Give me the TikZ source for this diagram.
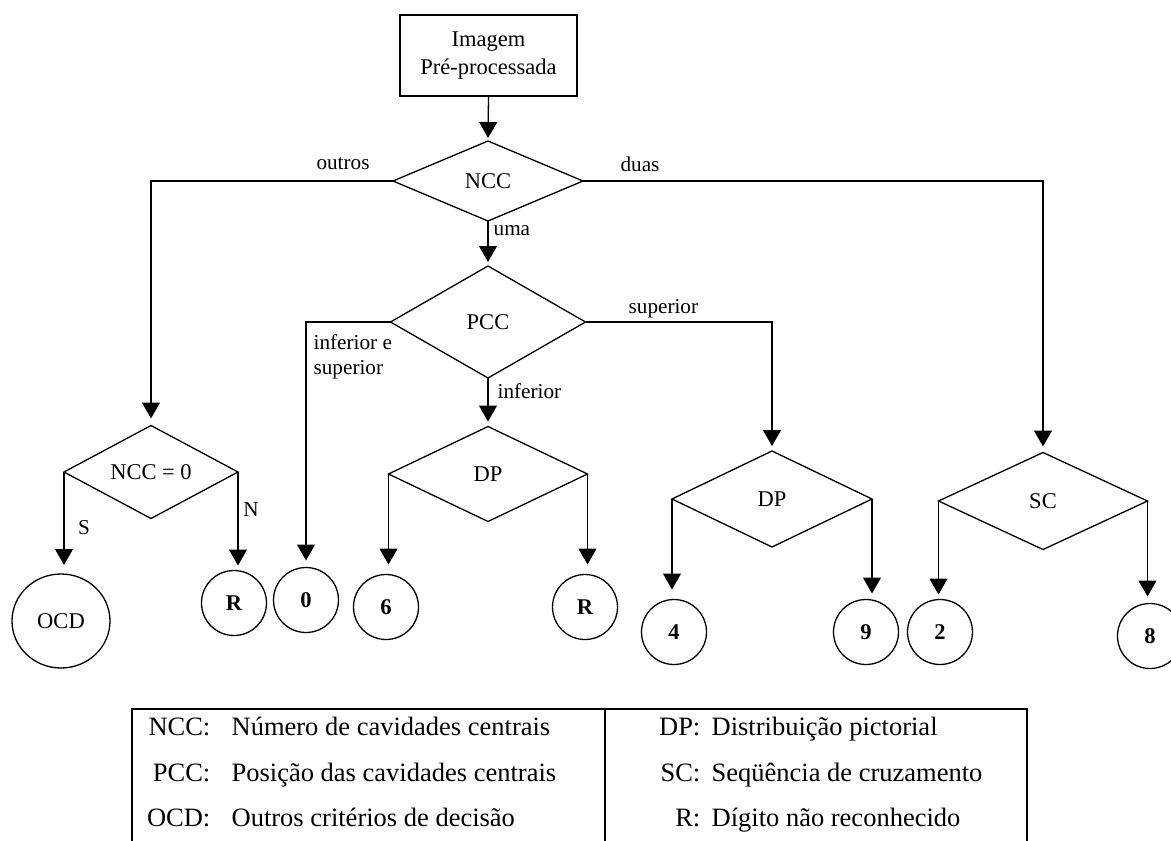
\documentclass[tikz,border=0pt]{standalone}
\usepackage{fontspec}
\setmainfont{Liberation Serif}
\usetikzlibrary{arrows.meta,shapes.geometric}

\begin{document}
\begin{tikzpicture}[x=1pt,y=-1pt,
  line width=1.3pt,
  every node/.style={font=\fontsize{22.5}{28}\selectfont},
  procbox/.style={draw, rectangle, inner sep=0pt, outer sep=0pt, align=center},
  decision/.style={draw, diamond, aspect=2, inner sep=0pt, outer sep=0pt},
  terminal/.style={draw, circle, inner sep=0pt, outer sep=0pt, minimum size=65pt, font=\fontsize{22.5}{27}\selectfont\bfseries},
  lbl/.style={inner sep=0pt, font=\fontsize{21.2}{25}\selectfont},
  arr/.style={-{Triangle[length=16pt,width=18pt]}},
  legterm/.style={inner sep=0pt, anchor=base east, font=\fontsize{26.5}{30}\selectfont},
  legdesc/.style={inner sep=0pt, anchor=base west, font=\fontsize{26.5}{30}\selectfont},
  legline/.style={line width=2pt}
]
\useasboundingbox (0,0) rectangle (1171,841);

% start box
\node[procbox, minimum width=177pt, minimum height=81pt] (img) at (488.5,55.5) {Imagem\\Pré-processada};

% decisions
\node[decision, minimum width=190pt, minimum height=80pt]  (ncc)  at (488,181) {NCC};
\node[decision, minimum width=195pt, minimum height=112pt] (pcc)  at (488,322) {PCC};
\node[decision, minimum width=174pt, minimum height=93pt]  (ncc0) at (151,472) {NCC = 0};
\node[decision, minimum width=199pt, minimum height=95pt]  (dpa)  at (488,474) {DP};
\node[decision, minimum width=200pt, minimum height=96pt]  (dpb)  at (772,499) {DP};
\node[decision, minimum width=209pt, minimum height=97pt]  (sc)   at (1043,501) {SC};

% outcomes
\node[draw, ellipse, inner sep=0pt, outer sep=0pt, minimum width=98pt, minimum height=94pt] (ocd) at (61,621) {OCD};
\node[terminal] (ra)    at (234,603) {R};
\node[terminal] (zero)  at (306,600) {0};
\node[terminal] (six)   at (386,607) {6};
\node[terminal] (rb)    at (585,607) {R};
\node[terminal] (four)  at (674,632) {4};
\node[terminal] (nine)  at (866,632) {9};
\node[terminal] (two)   at (940,632) {2};
\node[terminal] (eight) at (1150,636) {8};

% main flow
\draw[arr, shorten >=3pt] (img.south) -- (ncc.north);
\draw[arr, shorten >=7pt] (ncc.west) -| (ncc0.north);
\draw[arr, shorten >=6pt] (ncc.east) -| (sc.north);
\draw[arr, shorten >=4pt] (ncc.south) -- (pcc.north);
\draw[arr, shorten >=7pt] (pcc.west) -| (zero.north);
\draw[arr, shorten >=5pt] (pcc.east) -| (dpb.north);
\draw[arr, shorten >=5pt] (pcc.south) -- (dpa.north);

% branches to outcomes
\draw[arr, shorten >=9pt]  (ncc0.west) -- (ncc0.west |- ocd.north);
\draw[arr, shorten >=5pt]  (ncc0.east) -- (ncc0.east |- ra.north);
\draw[arr, shorten >=10pt] (dpa.west) -- (dpa.west |- six.north);
\draw[arr, shorten >=10pt] (dpa.east) -- (dpa.east |- rb.north);
\draw[arr, shorten >=10pt] (dpb.west) -- (dpb.west |- four.north);
\draw[arr, shorten >=6pt]  (dpb.east) -- (dpb.east |- nine.north);
\draw[arr, shorten >=5pt]  (sc.west) -- (sc.west |- two.north);
\draw[arr, shorten >=7pt]  (sc.east) -- (sc.east |- eight.north);

% branch labels
\node[lbl] (loutros) at (343,164) {outros};
\node[lbl] (lduas)   at (640,164) {duas};
\node[lbl, anchor=base west] (luma) at (493,235) {uma};
\node[lbl, anchor=base west] (linf) at (497,398) {inferior};
\node[lbl, anchor=base west] (lsup) at (628,313) {superior};
\node[lbl, anchor=north west, align=left] (lboth) at (313,333.5) {inferior e\\superior};
\node[lbl] (ls) at (84,528) {S};
\node[lbl] (ln) at (251,510) {N};

% legend frame
\draw[legline] (132,845) -- (132,709) -- (1027,709) -- (1027,845);
\draw[legline] (605,709) -- (605,845);

% legend entries
\node[legterm] (kncc) at (211,735) {NCC:};
\node[legdesc] (dncc) at (231,735) {Número de cavidades centrais};
\node[legterm] (kpcc) at (211,781) {PCC:};
\node[legdesc] (dpcc) at (231,781) {Posição das cavidades centrais};
\node[legterm] (kocd) at (211,826) {OCD:};
\node[legdesc] (docd) at (231,826) {Outros critérios de decisão};
\node[legterm] (kdp) at (701,735) {DP:};
\node[legdesc] (ddp) at (711,735) {Distribuição pictorial};
\node[legterm] (ksc) at (701,781) {SC:};
\node[legdesc] (dsc) at (711,781) {Seqüência de cruzamento};
\node[legterm] (kr) at (701,826) {R:};
\node[legdesc] (dr) at (711,826) {Dígito não reconhecido};
\end{tikzpicture}
\end{document}
